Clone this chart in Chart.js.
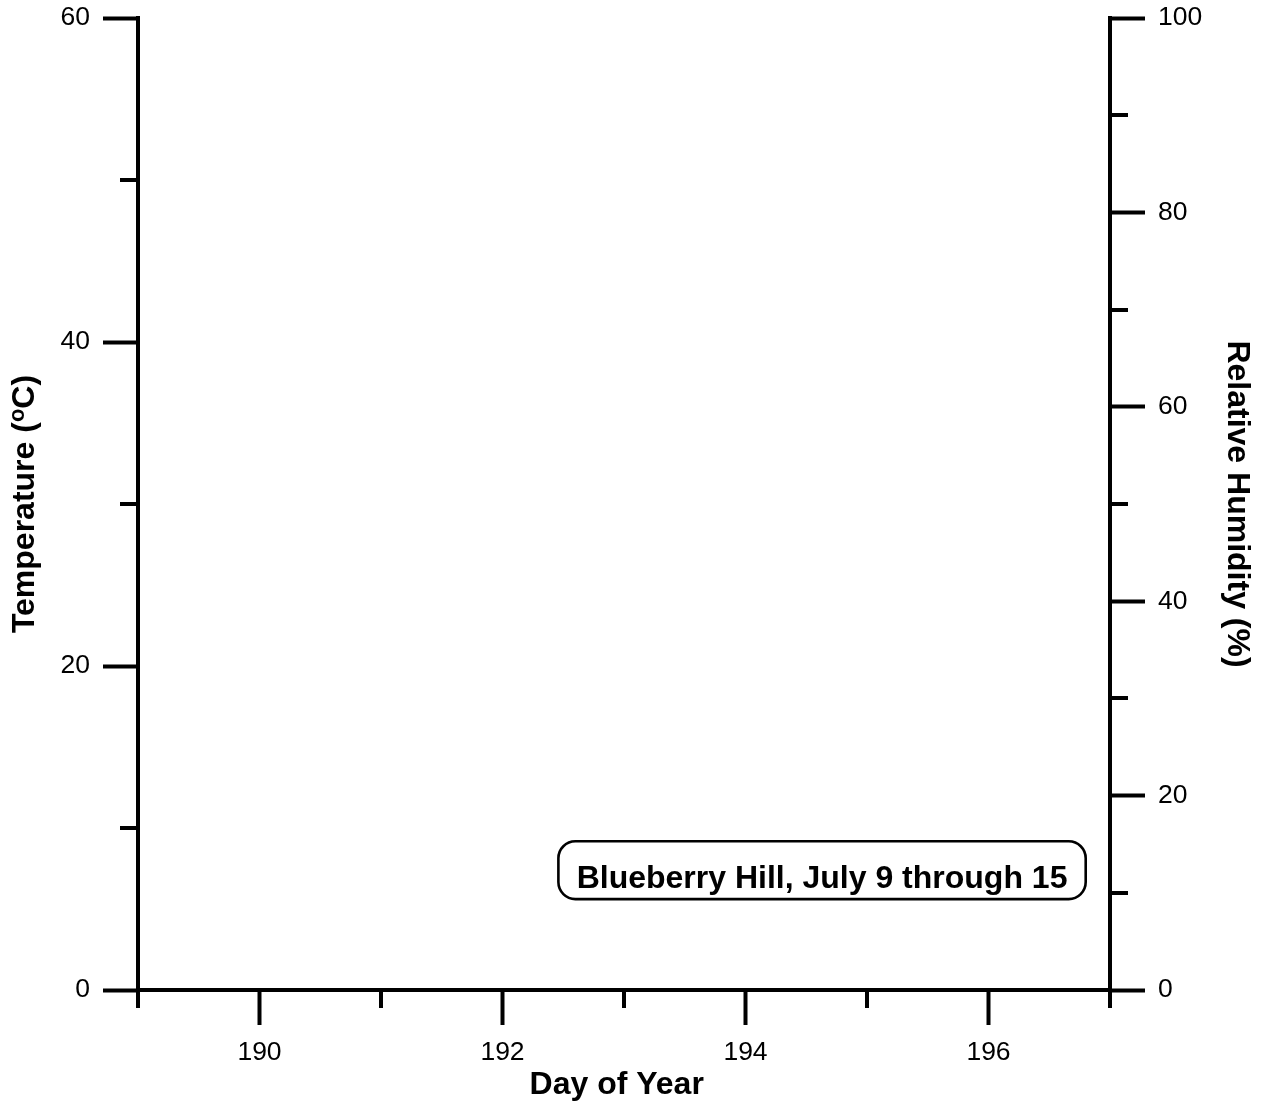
<!DOCTYPE html>
<html>
<head>
<meta charset="utf-8">
<title>Blueberry Hill – Temperature and Relative Humidity</title>
<script src="https://cdn.jsdelivr.net/npm/chart.js@4"></script>
<style>
  html, body { margin: 0; padding: 0; background: #ffffff; }
  #wrap { width: 1269px; height: 1109px; position: relative; }
  canvas { display: block; }
</style>
</head>
<body>
<div id="wrap"><canvas id="chart" width="1269" height="1109"></canvas></div>
<script>
// ---- axis ranges and ticks ----
const dayRange = [189, 197];
const dayMajorTicks = [190, 192, 194, 196];
const dayMinorTicks = [189, 191, 193, 195, 197];

const tempRange = [0, 60];
const tempMajorTicks = [0, 20, 40, 60];
const tempMinorTicks = [10, 30, 50];

const rhRange = [0, 100];
const rhMajorTicks = [0, 20, 40, 60, 80, 100];
const rhMinorTicks = [10, 30, 50, 70, 90];

// ---- series (no readings logged for this week) ----
const temperature = [];   // {x: day of year, y: °C}
const humidity = [];      // {x: day of year, y: %}

const siteNote = 'Blueberry Hill, July 9 through 15';

// ---- styling ----
const FONT = "'Liberation Sans', Arial, Helvetica, sans-serif";
const INK = '#000000';
const AXIS_W = 4;
const MAJOR_LEN = 35;
const MINOR_LEN = 18;
const TICK_FONT = { family: FONT, size: 26.5 };
const TITLE_SIZE = 32;
const TITLE_FONT = { family: FONT, size: TITLE_SIZE, weight: 'bold' };

Chart.defaults.font.family = FONT;
Chart.defaults.color = INK;

const fixTicks = list => scale => { scale.ticks = list.map(v => ({ value: v })); };

// Short minor tick marks on all three axes
const minorTicks = {
  id: 'minorTicks',
  afterDraw(chart) {
    const { ctx, chartArea: a, scales } = chart;
    ctx.save();
    ctx.strokeStyle = INK;
    ctx.lineWidth = AXIS_W;
    ctx.lineCap = 'butt';
    ctx.beginPath();
    dayMinorTicks.forEach(v => {
      const px = Math.round(scales.x.getPixelForValue(v));
      ctx.moveTo(px, a.bottom);
      ctx.lineTo(px, a.bottom + MINOR_LEN);
    });
    tempMinorTicks.forEach(v => {
      const py = Math.round(scales.yT.getPixelForValue(v));
      ctx.moveTo(a.left - MINOR_LEN, py);
      ctx.lineTo(a.left, py);
    });
    rhMinorTicks.forEach(v => {
      const py = Math.round(scales.yH.getPixelForValue(v));
      ctx.moveTo(a.right, py);
      ctx.lineTo(a.right + MINOR_LEN, py);
    });
    ctx.stroke();
    // square off the top corners where the axis lines meet the top ticks
    ctx.fillStyle = INK;
    ctx.fillRect(a.left - AXIS_W / 2, a.top - AXIS_W / 2, AXIS_W, AXIS_W);
    ctx.fillRect(a.right - AXIS_W / 2, a.top - AXIS_W / 2, AXIS_W, AXIS_W);
    ctx.restore();
  }
};

// Axis titles: bottom title and the left title with a superscript "o"
const axisTitles = {
  id: 'axisTitles',
  afterDraw(chart) {
    const { ctx, chartArea: a, scales } = chart;
    const mainFont = `bold ${TITLE_SIZE}px ${FONT}`;
    const supFont = `bold ${Math.round(TITLE_SIZE * 0.7)}px ${FONT}`;
    ctx.save();
    ctx.fillStyle = INK;

    // Day of Year
    ctx.font = mainFont;
    ctx.textAlign = 'center';
    ctx.textBaseline = 'alphabetic';
    ctx.fillText('Day of Year', scales.x.getPixelForValue(192.94), 1094);

    // Temperature (oC)
    const head = 'Temperature (', sup = 'o', tail = 'C)';
    ctx.translate(34, (a.top + a.bottom) / 2);
    ctx.rotate(-Math.PI / 2);
    ctx.textAlign = 'left';
    ctx.font = mainFont;
    const wHead = ctx.measureText(head).width;
    const wTail = ctx.measureText(tail).width;
    ctx.font = supFont;
    const wSup = ctx.measureText(sup).width;
    let x = -(wHead + wSup + wTail) / 2;
    ctx.font = mainFont;
    ctx.fillText(head, x, 0);
    x += wHead;
    ctx.font = supFont;
    ctx.fillText(sup, x, -10);
    x += wSup;
    ctx.font = mainFont;
    ctx.fillText(tail, x, 0);
    ctx.restore();
  }
};

// Rounded label box naming the site, anchored in data units
const noteBox = {
  id: 'noteBox',
  afterDraw(chart) {
    const { ctx, scales } = chart;
    const x0 = scales.x.getPixelForValue(192.46);
    const x1 = scales.x.getPixelForValue(196.8);
    const y0 = scales.yH.getPixelForValue(15.3);
    const y1 = scales.yH.getPixelForValue(9.35);
    ctx.save();
    ctx.strokeStyle = INK;
    ctx.lineWidth = 2.6;
    ctx.beginPath();
    ctx.roundRect(x0, y0, x1 - x0, y1 - y0, 17);
    ctx.stroke();
    ctx.fillStyle = INK;
    ctx.font = `bold ${TITLE_SIZE}px ${FONT}`;
    ctx.textAlign = 'center';
    ctx.textBaseline = 'alphabetic';
    ctx.fillText(siteNote, (x0 + x1) / 2, y1 - 11);
    ctx.restore();
  }
};

const axisLook = {
  grid: {
    display: true,
    drawOnChartArea: false,
    drawTicks: true,
    tickLength: MAJOR_LEN,
    tickWidth: AXIS_W,
    tickColor: INK,
    color: INK
  },
  border: { display: true, width: AXIS_W, color: INK }
};

new Chart(document.getElementById('chart'), {
  type: 'scatter',
  data: {
    datasets: [
      { label: 'Temperature', data: temperature, yAxisID: 'yT', borderColor: INK, backgroundColor: INK },
      { label: 'Relative Humidity', data: humidity, yAxisID: 'yH', borderColor: INK, backgroundColor: INK }
    ]
  },
  options: {
    responsive: false,
    animation: false,
    devicePixelRatio: 1,
    layout: { padding: { top: 18, left: 0, right: 0, bottom: 0 } },
    plugins: { legend: { display: false }, tooltip: { enabled: false } },
    scales: {
      x: {
        type: 'linear',
        position: 'bottom',
        min: dayRange[0],
        max: dayRange[1],
        afterBuildTicks: fixTicks(dayMajorTicks),
        afterFit: s => { s.height = 119; s.paddingLeft = 0; s.paddingRight = 0; },
        ...axisLook,
        ticks: { font: TICK_FONT, color: INK, padding: 12, maxRotation: 0, autoSkip: false,
                 callback: v => String(v) },
        title: { display: false }
      },
      yT: {
        type: 'linear',
        position: 'left',
        min: tempRange[0],
        max: tempRange[1],
        afterBuildTicks: fixTicks(tempMajorTicks),
        afterFit: s => { s.width = 138; s.paddingTop = 0; s.paddingBottom = 0; },
        ...axisLook,
        ticks: { font: TICK_FONT, color: INK, padding: 13, callback: v => String(v) },
        title: { display: false }
      },
      yH: {
        type: 'linear',
        position: 'right',
        min: rhRange[0],
        max: rhRange[1],
        afterBuildTicks: fixTicks(rhMajorTicks),
        afterFit: s => { s.width = 159; s.paddingTop = 0; s.paddingBottom = 0; },
        ...axisLook,
        ticks: { font: TICK_FONT, color: INK, padding: 13, callback: v => String(v) },
        title: { display: true, text: 'Relative Humidity (%)', color: INK, font: TITLE_FONT,
                 padding: { top: 13, bottom: 0 } }
      }
    }
  },
  plugins: [minorTicks, axisTitles, noteBox]
});
</script>
</body>
</html>
